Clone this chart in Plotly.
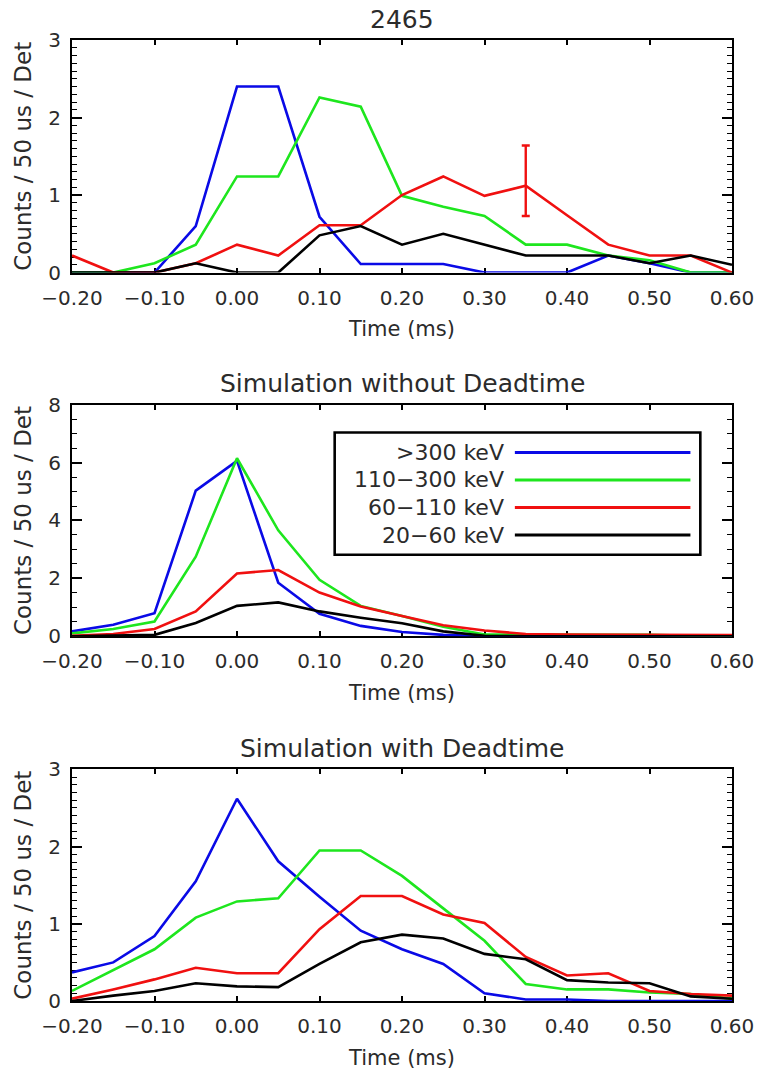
import plotly.graph_objects as go

# ---------------- data ----------------
time_ms = [-0.20, -0.15, -0.10, -0.05, 0.00, 0.05, 0.10, 0.15, 0.20,
           0.25, 0.30, 0.35, 0.40, 0.45, 0.50, 0.55, 0.60]

band_names = [">300 keV", "110\u2212300 keV", "60\u2212110 keV", "20\u221260 keV"]
band_colors = ["#0a0ae6", "#1ee61e", "#f01010", "#000000"]

panel_titles = ["2465", "Simulation without Deadtime", "Simulation with Deadtime"]

# Panel 1: observed event 2465
obs_gt300 = [0, 0, 0, 0.60, 2.40, 2.40, 0.72, 0.11, 0.11, 0.11, 0, 0, 0, 0.22, 0.12, 0, 0]
obs_110_300 = [0, 0, 0.12, 0.36, 1.24, 1.24, 2.26, 2.14, 0.99, 0.85, 0.73, 0.36, 0.36, 0.22, 0.16, 0, 0]
obs_60_110 = [0.22, 0, 0, 0.12, 0.36, 0.22, 0.61, 0.61, 1.00, 1.24, 0.99, 1.12, 0.74, 0.36, 0.22, 0.22, 0]
obs_20_60 = [0, 0, 0, 0.12, 0, 0, 0.48, 0.60, 0.36, 0.50, 0.36, 0.22, 0.22, 0.22, 0.12, 0.22, 0.10]

# error bar on the 60-110 keV curve
err_x = [0.35]
err_y = [1.12]
err_plus = [0.52]
err_minus = [0.39]

# Panel 2: simulation without deadtime
sim_gt300 = [0.17, 0.40, 0.80, 5.03, 6.06, 1.85, 0.78, 0.36, 0.15, 0.05, 0, 0, 0, 0, 0, 0, 0]
sim_110_300 = [0.10, 0.25, 0.51, 2.75, 6.15, 3.66, 1.95, 1.05, 0.70, 0.33, 0.06, 0.05, 0.05, 0.05, 0.05, 0.02, 0.02]
sim_60_110 = [0.02, 0.08, 0.25, 0.86, 2.17, 2.29, 1.51, 1.03, 0.70, 0.38, 0.20, 0.08, 0.06, 0.05, 0.05, 0.04, 0.04]
sim_20_60 = [0, 0.02, 0.05, 0.46, 1.05, 1.17, 0.86, 0.64, 0.45, 0.17, 0.02, 0, 0, 0, 0, 0, 0]

# Panel 3: simulation with deadtime
dt_gt300 = [0.37, 0.50, 0.84, 1.55, 2.62, 1.81, 1.35, 0.91, 0.67, 0.48, 0.10, 0.02, 0.02, 0, 0, 0, 0]
dt_110_300 = [0.13, 0.40, 0.67, 1.08, 1.29, 1.33, 1.95, 1.95, 1.62, 1.20, 0.78, 0.22, 0.15, 0.15, 0.11, 0.09, 0.03]
dt_60_110 = [0.03, 0.15, 0.28, 0.43, 0.36, 0.36, 0.93, 1.36, 1.36, 1.12, 1.01, 0.57, 0.33, 0.36, 0.13, 0.09, 0.07]
dt_20_60 = [0, 0.07, 0.13, 0.23, 0.19, 0.18, 0.48, 0.76, 0.86, 0.81, 0.61, 0.54, 0.27, 0.24, 0.23, 0.06, 0.03]

panels = [
    [obs_gt300, obs_110_300, obs_60_110, obs_20_60],
    [sim_gt300, sim_110_300, sim_60_110, sim_20_60],
    [dt_gt300, dt_110_300, dt_60_110, dt_20_60],
]
y_ranges = [[0, 3], [0, 8], [0, 3]]
y_dticks = [1, 2, 1]
y_minor = [0.1, 0.5, 0.1]

x_label = "Time (ms)"
y_label = "Counts / 50 us / Det"

# ---------------- style ----------------
FONT = "DejaVu Sans"
TXT = "#2b2b2b"
domains = [[0.758, 1.0], [0.3795, 0.6205], [0.0, 0.241]]

fig = go.Figure()

for p, series in enumerate(panels):
    xa = "x" if p == 0 else f"x{p+1}"
    ya = "y" if p == 0 else f"y{p+1}"
    for name, color, vals in zip(band_names, band_colors, series):
        fig.add_trace(go.Scatter(
            x=time_ms, y=vals, mode="lines", name=name,
            line=dict(color=color, width=2.6),
            xaxis=xa, yaxis=ya, showlegend=False, cliponaxis=False,
        ))

# error bar (panel 1, red curve)
fig.add_trace(go.Scatter(
    x=err_x, y=err_y, mode="markers",
    marker=dict(size=1, color=band_colors[2]),
    error_y=dict(type="data", symmetric=False, array=err_plus, arrayminus=err_minus,
                 color=band_colors[2], thickness=2.4, width=4),
    xaxis="x", yaxis="y", showlegend=False, cliponaxis=False,
))

axis_common = dict(
    showline=True, linecolor="black", linewidth=2, mirror="ticks",
    ticks="inside", tickcolor="black", tickwidth=1.6,
    showgrid=False, zeroline=False,
    tickfont=dict(family=FONT, size=20, color=TXT),
    layer="below traces",
)

layout = dict(
    width=766, height=1078, autosize=False,
    margin=dict(l=72, r=26, t=40, b=71),
    paper_bgcolor="white", plot_bgcolor="white",
    showlegend=False,
)

for p in range(3):
    xk = "xaxis" if p == 0 else f"xaxis{p+1}"
    yk = "yaxis" if p == 0 else f"yaxis{p+1}"
    ya_id = "y" if p == 0 else f"y{p+1}"
    xa_id = "x" if p == 0 else f"x{p+1}"
    layout[xk] = dict(
        axis_common, domain=[0, 1], anchor=ya_id,
        range=[-0.2, 0.6], tick0=0, dtick=0.1, tickformat=".2f",
        ticklen=5, ticklabelstandoff=6,
        title=dict(text=x_label, font=dict(family=FONT, size=21, color=TXT), standoff=13),
    )
    layout[yk] = dict(
        axis_common, domain=domains[p], anchor=xa_id,
        range=y_ranges[p], tick0=0, dtick=y_dticks[p], ticklen=10,
        ticklabelstandoff=5,
        minor=dict(ticks="inside", dtick=y_minor[p], tick0=0, ticklen=5,
                   tickwidth=1.4, tickcolor="black", showgrid=False),
        title=dict(text=y_label, font=dict(family=FONT, size=23, color=TXT), standoff=10),
    )

fig.update_layout(**layout)

# panel titles
for p, t in enumerate(panel_titles):
    fig.add_annotation(
        text=t, xref="paper", yref="paper", x=0.5, y=domains[p][1],
        xanchor="center", yanchor="middle", yshift=21, showarrow=False,
        font=dict(family=FONT, size=25, color=TXT),
    )

# legend drawn inside panel 2 (text left, line right)
fig.add_shape(type="rect", xref="x2 domain", yref="y2 domain",
              x0=0.398, x1=0.952, y0=0.352, y1=0.880,
              line=dict(color="black", width=2.6), fillcolor="white", layer="above")
for i, (name, color) in enumerate(zip(band_names, band_colors)):
    yy = 0.794 - i * 0.119
    fig.add_annotation(
        text=name, xref="x2 domain", yref="y2 domain", x=0.657, y=yy,
        xanchor="right", yanchor="middle", showarrow=False,
        font=dict(family=FONT, size=22, color=TXT),
    )
    fig.add_shape(type="line", xref="x2 domain", yref="y2 domain",
                  x0=0.671, x1=0.937, y0=yy, y1=yy,
                  line=dict(color=color, width=3), layer="above")

fig.write_html("out.html", config={"displayModeBar": False},
               post_script="document.body.style.margin='0';")
